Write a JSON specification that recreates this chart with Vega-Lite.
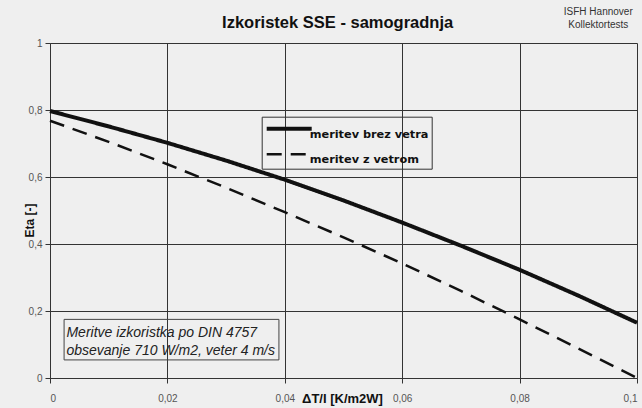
{
  "$schema": "https://vega.github.io/schema/vega-lite/v6.json",
  "width": 587,
  "height": 335,
  "autosize": {"type": "none"},
  "padding": {"left": 50, "top": 43, "right": 5, "bottom": 30},
  "background": "#efefef",
  "config": {"view": {"stroke": null}, "font": "Liberation Sans"},
  "data": {
    "values": [
      {"dt": 0.00, "eta": 0.797, "serija": "meritev brez vetra"},
      {"dt": 0.01, "eta": 0.751, "serija": "meritev brez vetra"},
      {"dt": 0.02, "eta": 0.702, "serija": "meritev brez vetra"},
      {"dt": 0.03, "eta": 0.649, "serija": "meritev brez vetra"},
      {"dt": 0.04, "eta": 0.592, "serija": "meritev brez vetra"},
      {"dt": 0.05, "eta": 0.530, "serija": "meritev brez vetra"},
      {"dt": 0.06, "eta": 0.464, "serija": "meritev brez vetra"},
      {"dt": 0.07, "eta": 0.395, "serija": "meritev brez vetra"},
      {"dt": 0.08, "eta": 0.323, "serija": "meritev brez vetra"},
      {"dt": 0.09, "eta": 0.246, "serija": "meritev brez vetra"},
      {"dt": 0.10, "eta": 0.165, "serija": "meritev brez vetra"},
      {"dt": 0.00, "eta": 0.768, "serija": "meritev z vetrom"},
      {"dt": 0.01, "eta": 0.705, "serija": "meritev z vetrom"},
      {"dt": 0.02, "eta": 0.638, "serija": "meritev z vetrom"},
      {"dt": 0.03, "eta": 0.568, "serija": "meritev z vetrom"},
      {"dt": 0.04, "eta": 0.495, "serija": "meritev z vetrom"},
      {"dt": 0.05, "eta": 0.420, "serija": "meritev z vetrom"},
      {"dt": 0.06, "eta": 0.342, "serija": "meritev z vetrom"},
      {"dt": 0.07, "eta": 0.260, "serija": "meritev z vetrom"},
      {"dt": 0.08, "eta": 0.175, "serija": "meritev z vetrom"},
      {"dt": 0.09, "eta": 0.088, "serija": "meritev z vetrom"},
      {"dt": 0.10, "eta": 0.000, "serija": "meritev z vetrom"}
    ]
  },
  "layer": [
    {
      "mark": {"type": "line", "color": "#111111", "strokeCap": "butt"},
      "encoding": {
        "x": {
          "field": "dt",
          "type": "quantitative",
          "scale": {"domain": [0, 0.1], "nice": false},
          "axis": {
            "values": [0, 0.02, 0.04, 0.06, 0.08, 0.1],
            "labelExpr": "replace(format(datum.value, '~g'), '.', ',')",
            "title": "ΔT/I [K/m2W]",
            "titleX": 292,
            "titleY": 24,
            "titleBaseline": "alphabetic",
            "titleAlign": "center",
            "titleFont": "Liberation Sans",
            "titleFontSize": 13,
            "titleFontWeight": "bold",
            "titleColor": "#111111",
            "labelFontSize": 10,
            "labelColor": "#555555",
            "labelPadding": 10,
            "tickSize": 5,
            "tickColor": "#333333",
            "domainColor": "#333333",
            "gridColor": "#333333",
            "gridOpacity": 1,
            "labelOverlap": false,
            "labelBound": false
          }
        },
        "y": {
          "field": "eta",
          "type": "quantitative",
          "scale": {"domain": [0, 1], "nice": false},
          "axis": {
            "values": [0, 0.1, 0.2, 0.3, 0.4, 0.5, 0.6, 0.7, 0.8, 0.9, 1],
            "labelExpr": "round(datum.value * 10) % 2 == 0 ? replace(format(datum.value, '~g'), '.', ',') : ''",
            "gridOpacity": {"condition": {"test": "round(datum.value * 10) % 2 == 0", "value": 1}, "value": 0},
            "tickSize": {"condition": {"test": "round(datum.value * 10) % 2 == 0", "value": 5}, "value": 3},
            "title": "Eta [-]",
            "titleX": -21,
            "titleY": 177,
            "titleBaseline": "middle",
            "titleAlign": "center",
            "titleFont": "Liberation Sans",
            "titleFontSize": 12,
            "titleFontWeight": "bold",
            "titleColor": "#111111",
            "labelFontSize": 10,
            "labelColor": "#555555",
            "labelPadding": 3,
            "tickColor": "#333333",
            "domainColor": "#333333",
            "gridColor": "#333333",
            "labelOverlap": false,
            "labelBound": false
          }
        },
        "strokeDash": {
          "field": "serija",
          "type": "nominal",
          "scale": {"domain": ["meritev brez vetra", "meritev z vetrom"], "range": [[1, 0], [15, 9]]},
          "legend": {
            "title": null,
            "orient": "none",
            "legendX": 211.7,
            "legendY": 73.7,
            "symbolType": "stroke",
            "symbolSize": 2025,
            "symbolStrokeColor": "#111111",
            "clipHeight": 18,
            "rowPadding": 4.5,
            "padding": 3,
            "strokeColor": "#333333",
            "labelFont": "DejaVu Sans",
            "labelFontWeight": "bold",
            "labelFontSize": 11.3,
            "labelColor": "#111111",
            "labelBaseline": "top",
            "labelOffset": -4
          }
        },
        "strokeWidth": {
          "field": "serija",
          "type": "nominal",
          "scale": {"domain": ["meritev brez vetra", "meritev z vetrom"], "range": [4, 2.5]},
          "legend": {
            "title": null,
            "orient": "none",
            "legendX": 211.7,
            "legendY": 73.7,
            "symbolType": "stroke",
            "symbolSize": 2025,
            "symbolStrokeColor": "#111111",
            "clipHeight": 18,
            "rowPadding": 4.5,
            "padding": 3,
            "strokeColor": "#333333",
            "labelFont": "DejaVu Sans",
            "labelFontWeight": "bold",
            "labelFontSize": 11.3,
            "labelColor": "#111111",
            "labelBaseline": "top",
            "labelOffset": -4
          }
        }
      }
    },
    {
      "data": {"values": [{}]},
      "mark": {"type": "rect", "fill": "transparent", "stroke": "#444444", "strokeWidth": 1},
      "encoding": {
        "x": {"datum": 0.0024},
        "x2": {"datum": 0.039},
        "y": {"datum": 0.175},
        "y2": {"datum": 0.054}
      }
    },
    {
      "data": {"values": [{}]},
      "mark": {"type": "text", "text": "Meritve izkoristka po DIN  4757", "align": "left", "baseline": "alphabetic", "font": "Liberation Sans", "fontStyle": "italic", "fontSize": 14, "color": "#222222"},
      "encoding": {"x": {"datum": 0.0028}, "y": {"datum": 0.1233}}
    },
    {
      "data": {"values": [{}]},
      "mark": {"type": "text", "text": "obsevanje 710 W/m2, veter 4  m/s", "align": "left", "baseline": "alphabetic", "font": "Liberation Sans", "fontStyle": "italic", "fontSize": 14, "color": "#222222"},
      "encoding": {"x": {"datum": 0.0028}, "y": {"datum": 0.0687}}
    },
    {
      "data": {"values": [{}]},
      "mark": {"type": "text", "text": "Izkoristek SSE - samogradnja", "align": "center", "baseline": "alphabetic", "font": "Liberation Sans", "fontWeight": "bold", "fontSize": 16.5, "color": "#111111"},
      "encoding": {"x": {"datum": 0.0490}, "y": {"datum": 1.0448}}
    },
    {
      "data": {"values": [{}]},
      "mark": {"type": "text", "text": "ISFH Hannover", "align": "center", "baseline": "middle", "font": "Liberation Sans", "fontSize": 10, "color": "#333333"},
      "encoding": {"x": {"datum": 0.0934}, "y": {"datum": 1.0925}}
    },
    {
      "data": {"values": [{}]},
      "mark": {"type": "text", "text": "Kollektortests", "align": "center", "baseline": "middle", "font": "Liberation Sans", "fontSize": 10, "color": "#333333"},
      "encoding": {"x": {"datum": 0.0934}, "y": {"datum": 1.0537}}
    }
  ]
}
